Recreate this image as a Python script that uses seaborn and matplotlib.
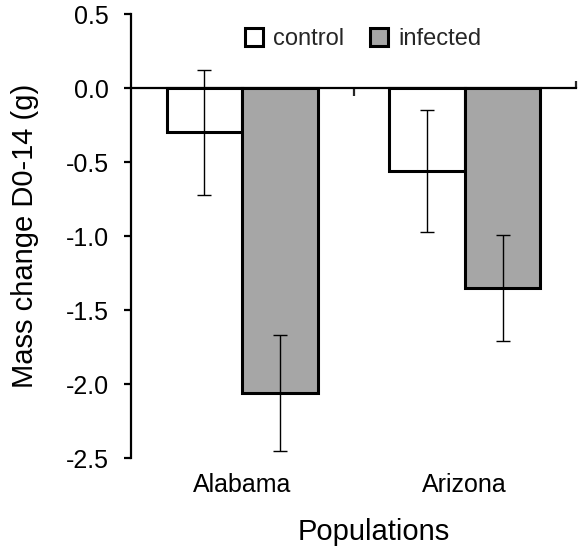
import matplotlib
matplotlib.use("Agg")
import matplotlib.pyplot as plt
import seaborn as sns
import pandas as pd
from matplotlib.patches import Patch

populations = ["Alabama", "Arizona"]
groups = ["control", "infected"]
control_mean = [-0.30, -0.56]
infected_mean = [-2.06, -1.35]
control_err = [0.42, 0.41]
infected_err = [0.39, 0.36]
yticks = [-2.5, -2.0, -1.5, -1.0, -0.5, 0.0, 0.5]
ytick_labels = ["-2.5", "-2.0", "-1.5", "-1.0", "-0.5", "0.0", "0.5"]
colors = {"control": "white", "infected": "#a6a6a6"}

sns.set_theme(style="white")
plt.rcParams['font.family'] = ['Liberation Sans', 'DejaVu Sans']
plt.rcParams['axes.unicode_minus'] = False

df = pd.DataFrame({
    "Population": populations * 2,
    "Group": ["control"] * 2 + ["infected"] * 2,
    "Mass": control_mean + infected_mean,
    "Err": control_err + infected_err,
})

fig = plt.figure(figsize=(5.78, 5.57), dpi=100)
ax = fig.add_axes([131 / 578, 1 - 458 / 557, 445 / 578, 444 / 557])
sns.barplot(data=df, x="Population", y="Mass", hue="Group", order=populations,
            hue_order=groups, palette=colors, edgecolor="black", linewidth=2.2,
            width=0.68, errorbar=None, ax=ax, legend=False, saturation=1)

errs = {"control": control_err, "infected": infected_err}
for cont, g in zip(ax.containers, groups):
    for bar, e in zip(cont, errs[g]):
        x = bar.get_x() + bar.get_width() / 2
        y = bar.get_y() + bar.get_height()
        ax.errorbar(x, y, yerr=e, fmt='none', ecolor='black', elinewidth=1,
                    capsize=5, capthick=1, zorder=5)

ax.set_xlim(-0.5, 1.5)
ax.set_ylim(-2.5, 0.5)
ax.set_yticks(yticks)
ax.set_yticklabels(ytick_labels)
ax.spines['top'].set_visible(False)
ax.spines['right'].set_visible(False)
for s in ['left', 'bottom']:
    ax.spines[s].set_color('black')
    ax.spines[s].set_linewidth(1.6)
ax.spines['bottom'].set_position(('data', 0))
ax.tick_params(axis='y', direction='out', length=5, width=1.6, labelsize=18,
               colors='black', left=True, pad=11)
ax.set_xticks([0.5])
ax.set_xticklabels([""])
ax.set_xticks([1.5], minor=True)
ax.tick_params(axis='x', which='major', direction='out', length=6, width=1.6, bottom=True)
ax.tick_params(axis='x', which='minor', direction='in', length=5, width=1.6, bottom=True)
ax.set_xlabel("")
ax.set_ylabel("Mass change D0-14 (g)", fontsize=21, color='black', labelpad=19)

for i, p in enumerate(populations):
    ax.text(i, -0.033, p, transform=ax.get_xaxis_transform(), ha='center', va='top',
            fontsize=18, color='black')
ax.text(0.546, -0.135, "Populations", transform=ax.transAxes, ha='center', va='top',
        fontsize=21, color='black')

handles = [Patch(facecolor=colors[g], edgecolor='black', linewidth=2.2, label=g) for g in groups]
ax.legend(handles=handles, loc='upper center', bbox_to_anchor=(0.522, 1.0), ncol=2,
          frameon=False, handlelength=0.75, handleheight=0.75, handletextpad=0.45,
          columnspacing=1.1, fontsize=17, borderaxespad=0.2)

fig.savefig("out.png", dpi=100)
